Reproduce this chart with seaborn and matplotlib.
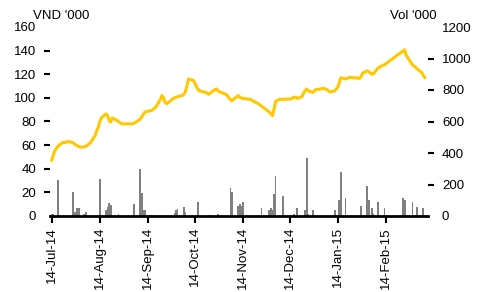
import numpy as np
import pandas as pd
import matplotlib
matplotlib.use("Agg")
import matplotlib.pyplot as plt
import matplotlib.dates as mdates
import seaborn as sns

# ---- data ----
price_jul = [47, 51, 55, 57, 59, 62, 62.5, 62, 63, 63, 62, 60.5, 60, 59]
price_aug = [58.5, 58.4, 59, 60, 61, 62, 68, 72, 75, 80, 83, 86.5, 85, 81, 79.5, 83, 81, 80, 79, 78, 78]
price_sep = [78, 78, 78.5, 81, 82, 84, 86, 88, 89, 89, 90, 91, 92, 99, 102, 100, 96, 95, 98, 99.5]
price_oct = [100, 100.5, 101, 102, 103, 105, 110, 116, 115, 113, 110, 107.5, 106, 105, 104.7, 104, 103, 104, 107, 107.5, 106, 105, 104.7]
price_nov = [103, 102, 100, 98.5, 97.7, 101, 102, 100.5, 100, 99.5, 99, 99, 98.5, 98, 97, 95, 94, 93, 92, 91]
price_dec = [88, 86.5, 85, 90, 97, 99, 98.5, 99, 98.5, 99, 99, 100, 100.5, 100.5, 99.5, 101, 104, 106, 107.5, 106, 104.7, 106, 107]
price_jan = [108, 107.5, 107, 106, 105, 106, 107.5, 109, 113, 117, 116, 116.5, 117, 117.5, 117, 117, 116.5, 116.5, 118, 121]
price_feb = [123, 122, 121, 120, 120.5, 125.5, 126, 127, 127.5, 128, 139.8, 140.6, 136]
price_mar = [130, 128, 127, 126, 124.5, 121.5, 119, 117]

vol_jul = [12, 12, 3, 3, 227, 3, 3, 3, 3, 3, 154, 25, 50, 53]
vol_aug = [50, 12, 25, 3, 3, 3, 3, 3, 3, 238, 3, 40, 60, 85, 70, 3, 3, 12, 3, 3, 3]
vol_sep = [3, 3, 78, 3, 300, 143, 40, 38, 8, 8, 8, 3, 3, 3, 8, 3, 3, 3, 3, 3]
vol_oct = [20, 40, 45, 3, 59, 25, 3, 3, 3, 3, 3, 90, 3, 3, 3, 3, 8, 8, 3, 3, 12, 3, 3]
vol_nov = [3, 3, 3, 179, 154, 3, 65, 76, 65, 88, 3, 3, 3, 3, 3, 3, 3, 48, 3, 3]
vol_dec = [38, 48, 38, 139, 253, 3, 3, 126, 3, 3, 3, 3, 10, 3, 48, 3, 3, 38, 366, 10, 38, 3, 3]
vol_jan = [3, 3, 3, 3, 3, 38, 3, 3, 101, 278, 112, 3, 3, 3, 3, 3, 3, 3, 63, 3]
vol_feb = [190, 101, 3, 48, 10, 88, 3, 3, 3, 48, 114, 101, 3]
vol_mar = [3, 90, 3, 3, 59, 3, 51, 3]

holidays = ["2014-09-01", "2014-09-02", "2015-01-01", "2015-01-02",
            "2015-02-16", "2015-02-17", "2015-02-18", "2015-02-19",
            "2015-02-20", "2015-02-23", "2015-02-24"]
tick_dates = ["2014-07-14", "2014-08-14", "2014-09-14", "2014-10-14",
              "2014-11-14", "2014-12-14", "2015-01-14", "2015-02-14"]

dates = pd.bdate_range("2014-07-14", "2015-03-11")
dates = dates[~dates.isin(pd.to_datetime(holidays))]
price = (price_jul + price_aug + price_sep + price_oct + price_nov +
         price_dec + price_jan + price_feb + price_mar)
vol = (vol_jul + vol_aug + vol_sep + vol_oct + vol_nov +
       vol_dec + vol_jan + vol_feb + vol_mar)
df = pd.DataFrame({"date": dates, "price": price, "vol": vol})

# ---- style ----
sns.set_style("white")
plt.rcParams["font.family"] = ["Liberation Sans", "DejaVu Sans"]
FS = 9.5

fig = plt.figure(figsize=(4.8, 2.92), dpi=100)
ax = fig.add_axes([50 / 480, 1 - 216 / 292, 378 / 480, 189 / 292])
ax2 = ax.twinx()

ax2.bar(df["date"], df["vol"], width=1.2, color="#808080", linewidth=0)
sns.lineplot(data=df, x="date", y="price", ax=ax, color="#FFC800", linewidth=2.2)

ax.set_zorder(ax2.get_zorder() + 1)
ax.patch.set_visible(False)

ax.set_xlim(pd.Timestamp("2014-07-13"), pd.Timestamp("2015-03-13"))
ax.set_ylim(0, 160)
ax2.set_ylim(0, 1200)
ax.set_yticks(np.arange(0, 161, 20))
ax2.set_yticks(np.arange(0, 1201, 200))
ax.set_xticks(pd.to_datetime(tick_dates))
ax.xaxis.set_major_formatter(mdates.DateFormatter("%d-%b-%y"))
ax.set_xlabel("")
ax.set_ylabel("")
ax2.set_ylabel("")

for sp in ax.spines.values():
    sp.set_visible(False)
for sp in ax2.spines.values():
    sp.set_visible(False)
ax.spines["bottom"].set_visible(True)
ax.spines["bottom"].set_color("black")
ax.spines["bottom"].set_linewidth(2)

ax.tick_params(axis="y", left=True, right=False, length=4, width=1.5,
               color="black", pad=6, labelsize=FS, labelcolor="black")
ax2.tick_params(axis="y", right=True, left=False, length=4, width=1.5,
                color="black", pad=6, labelsize=FS, labelcolor="black")
ax.tick_params(axis="x", bottom=True, length=5, width=1.5, color="black",
               pad=3, labelsize=FS, labelrotation=90, labelcolor="black")
ax2.tick_params(axis="x", bottom=False, top=False, labelbottom=False)

# hide tick marks at top and bottom ends
for t in (ax.yaxis.get_major_ticks()[-1], ax.yaxis.get_major_ticks()[0],
          ax2.yaxis.get_major_ticks()[-1], ax2.yaxis.get_major_ticks()[0]):
    t.tick1line.set_visible(False)
    t.tick2line.set_visible(False)

fig.text(33 / 480, 1 - 16 / 292, "VND '000", ha="left", va="center",
         fontsize=FS, color="black")
fig.text(390 / 480, 1 - 16 / 292, "Vol '000", ha="left", va="center",
         fontsize=FS, color="black")

fig.savefig("out.png", dpi=100)
